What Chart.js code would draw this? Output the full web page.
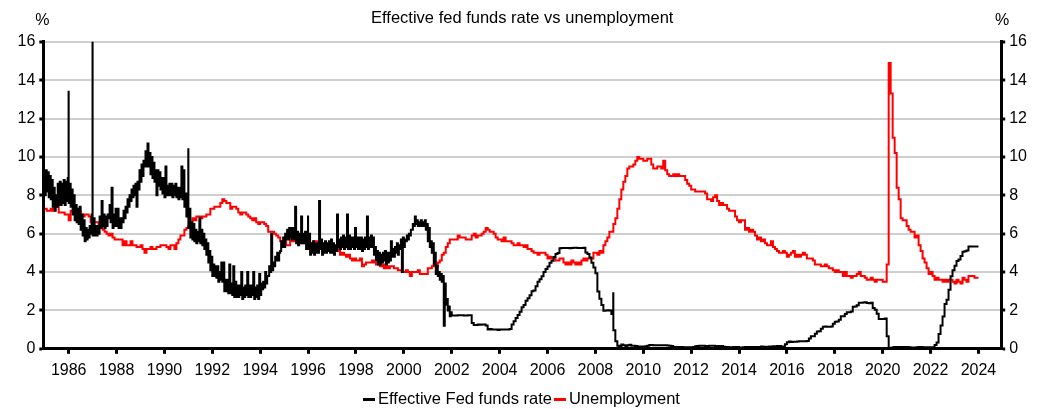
<!DOCTYPE html>
<html>
<head>
<meta charset="utf-8">
<title>Effective fed funds rate vs unemployment</title>
<script src="https://cdn.jsdelivr.net/npm/chart.js@4.4.1/dist/chart.umd.min.js"></script>
<style>
  html, body { margin: 0; padding: 0; background: #ffffff; }
  #wrap { width: 1043px; height: 409px; }
</style>
</head>
<body>
<div id="wrap"><canvas id="chart" width="1043" height="409"></canvas></div>
<script>
// ---- Data -------------------------------------------------------------

// Effective fed funds rate, monthly low and high of the daily prints, Jan 1985 - Dec 2001
const fedFundsMonthlyRange = [
  8.0,9.3, 8.2,9.2, 7.9,9.0, 7.8,8.8, 7.4,8.4, 7.2,8.0, 7.4,8.6, 7.5,8.7, 7.5,8.6, 7.6,8.8, 7.5,8.7, 7.7,8.9,    // 1985
  7.6,8.6, 7.4,8.3, 7.0,8.0, 6.7,7.5, 6.6,7.3, 6.5,7.4, 6.2,7.0, 5.9,6.7, 5.6,6.3, 5.7,6.2, 5.8,6.4, 6.0,7.0,    // 1986
  5.9,6.8, 5.9,6.4, 5.9,6.4, 6.0,6.9, 6.3,7.7, 6.4,7.0, 6.3,6.9, 6.4,7.0, 6.8,7.5, 6.6,8.4, 6.3,7.0, 6.4,7.3,    // 1987
  6.4,7.3, 6.3,6.8, 6.3,6.8, 6.6,7.2, 6.8,7.4, 7.1,7.8, 7.4,8.0, 7.7,8.3, 7.9,8.5, 8.0,8.6, 7.4,8.7, 8.3,9.3,    // 1988
  8.7,9.6, 9.0,9.8, 9.5,10.3, 9.5,10.7, 9.5,10.2, 9.1,10.0, 8.9,9.7, 8.7,9.3, 8.0,9.3, 8.5,9.2, 8.3,8.9, 8.1,8.9, // 1989
  7.9,9.5, 8.0,8.5, 8.0,8.6, 8.0,8.6, 7.9,8.5, 8.0,8.6, 7.9,8.4, 7.8,8.4, 7.9,9.5, 7.8,9.3, 7.4,8.1, 6.9,7.8,    // 1990
  6.3,7.3, 5.8,6.6, 5.7,6.5, 5.6,6.2, 5.5,6.1, 5.6,6.8, 5.5,6.2, 5.4,6.0, 5.2,5.7, 4.9,5.5, 4.5,5.1, 4.1,4.8,    // 1991
  3.8,4.4, 3.8,4.3, 3.7,4.3, 3.5,4.0, 3.6,4.5, 3.5,4.5, 3.0,3.6, 3.0,3.6, 2.9,4.4, 2.9,3.4, 2.8,4.3, 2.7,3.5,    // 1992
  2.7,3.3, 2.7,3.3, 2.8,4.0, 2.6,3.2, 2.7,3.3, 2.8,4.0, 2.7,3.3, 2.7,3.3, 2.8,4.0, 2.6,3.2, 2.7,3.3, 2.6,3.9,    // 1993
  2.8,3.4, 3.1,3.5, 3.2,4.0, 3.4,3.8, 3.8,4.3, 4.0,6.0, 4.1,4.5, 4.3,4.8, 4.6,5.0, 4.6,5.0, 5.1,5.6, 5.3,5.8,    // 1994
  5.3,6.0, 5.7,6.2, 5.7,6.3, 5.8,6.3, 5.7,6.3, 5.7,7.4, 5.5,6.1, 5.4,6.0, 5.5,6.9, 5.5,6.0, 5.5,6.1, 5.2,6.0,    // 1995
  5.2,6.0, 4.9,5.5, 5.0,5.6, 4.9,5.5, 5.0,5.5, 5.0,7.7, 5.2,5.7, 4.9,5.5, 5.0,5.6, 5.0,5.5, 5.1,5.6, 5.0,5.7,    // 1996
  5.0,5.5, 4.9,5.4, 5.1,7.0, 5.3,5.7, 5.2,5.8, 5.3,5.9, 5.2,5.8, 5.3,7.0, 5.2,5.9, 5.2,5.8, 5.3,5.8, 5.2,6.3,    // 1997
  5.3,5.8, 5.2,5.8, 5.2,5.8, 5.1,5.7, 5.2,5.8, 5.3,6.9, 5.2,5.8, 5.3,5.9, 5.3,5.8, 4.9,5.3, 4.6,5.1, 4.4,5.0,    // 1998
  4.4,4.9, 4.5,5.0, 4.6,5.1, 4.4,5.0, 4.5,5.0, 4.6,5.6, 4.8,5.2, 4.8,5.3, 5.0,5.5, 4.9,5.4, 5.2,5.7, 4.0,5.8,    // 1999
  5.3,5.7, 5.6,5.9, 5.7,6.0, 5.9,6.2, 6.2,6.5, 6.4,6.9, 6.5,6.7, 6.4,6.6, 6.4,6.7, 6.4,6.6, 6.4,6.7, 6.2,6.5,    // 2000
  5.6,6.3, 5.3,5.6, 5.0,5.5, 4.4,5.0, 3.9,4.3, 3.8,4.0, 3.6,3.9, 3.5,3.8, 1.2,3.4, 2.3,2.6, 2.0,2.2, 1.7,1.9     // 2001
];

// Effective fed funds rate, monthly, Jan 2002 - Jan 2024
const fedFundsMonthly = [
  1.73,1.74,1.73,1.75,1.75,1.75,1.73,1.74,1.75,1.75,1.34,1.24,   // 2002
  1.24,1.26,1.25,1.26,1.26,1.22,1.01,1.03,1.01,1.01,1.00,0.98,   // 2003
  1.00,1.01,1.00,1.00,1.00,1.03,1.26,1.43,1.61,1.76,1.93,2.16,   // 2004
  2.28,2.50,2.63,2.79,3.00,3.04,3.26,3.50,3.62,3.78,4.00,4.16,   // 2005
  4.29,4.49,4.59,4.79,4.94,4.99,5.24,5.25,5.25,5.25,5.25,5.24,   // 2006
  5.25,5.26,5.26,5.25,5.25,5.25,5.26,5.02,4.94,4.76,4.49,4.24,   // 2007
  3.94,2.98,2.61,2.28,1.98,2.00,2.01,2.00,1.81,0.97,0.39,0.16,   // 2008
  0.15,0.22,0.18,0.15,0.18,0.21,0.16,0.16,0.15,0.12,0.12,0.12,   // 2009
  0.11,0.13,0.16,0.20,0.20,0.18,0.18,0.19,0.19,0.19,0.19,0.18,   // 2010
  0.17,0.16,0.14,0.10,0.09,0.09,0.07,0.10,0.08,0.07,0.08,0.07,   // 2011
  0.08,0.10,0.13,0.14,0.16,0.16,0.16,0.13,0.14,0.16,0.16,0.16,   // 2012
  0.14,0.15,0.14,0.15,0.11,0.09,0.09,0.08,0.08,0.09,0.08,0.09,   // 2013
  0.07,0.07,0.08,0.09,0.09,0.10,0.09,0.09,0.09,0.09,0.09,0.12,   // 2014
  0.11,0.11,0.11,0.12,0.12,0.13,0.13,0.14,0.14,0.12,0.12,0.24,   // 2015
  0.34,0.38,0.36,0.37,0.37,0.38,0.39,0.40,0.40,0.40,0.41,0.54,   // 2016
  0.65,0.66,0.79,0.90,0.91,1.04,1.15,1.16,1.15,1.15,1.16,1.30,   // 2017
  1.41,1.42,1.51,1.69,1.70,1.82,1.91,1.91,1.95,2.19,2.20,2.27,   // 2018
  2.40,2.40,2.41,2.42,2.39,2.38,2.40,2.13,2.04,1.83,1.55,1.55,   // 2019
  1.55,1.58,0.65,0.05,0.05,0.08,0.09,0.10,0.09,0.09,0.09,0.09,   // 2020
  0.09,0.08,0.07,0.07,0.06,0.08,0.10,0.09,0.08,0.08,0.08,0.08,   // 2021
  0.08,0.08,0.20,0.33,0.77,1.21,1.68,2.33,2.56,3.08,3.78,4.10,   // 2022
  4.33,4.57,4.65,4.83,5.06,5.08,5.12,5.33,5.33,5.33,5.33,5.33,   // 2023
  5.33                                                           // 2024
];

// Single-day jumps in the overnight rate: [date as decimal year, rate]
const fedFundsSpikes = [
  [1985.996, 13.4],
  [1986.996, 16.0],
  [1990.996, 10.4],
  [1995.996, 6.9],
  [2008.745, 2.9]
];

// Unemployment rate, monthly, Jan 1985 - Jan 2024
const unemployment = [
  7.3,7.2,7.2,7.3,7.2,7.4,7.4,7.1,7.1,7.1,7.0,7.0,   // 1985
  6.7,7.2,7.2,7.1,7.2,7.2,7.0,6.9,7.0,7.0,6.9,6.6,   // 1986
  6.6,6.6,6.6,6.3,6.3,6.2,6.1,6.0,5.9,6.0,5.8,5.7,   // 1987
  5.7,5.7,5.7,5.4,5.6,5.4,5.4,5.6,5.4,5.4,5.3,5.3,   // 1988
  5.4,5.2,5.0,5.2,5.2,5.3,5.2,5.2,5.3,5.3,5.4,5.4,   // 1989
  5.4,5.3,5.2,5.4,5.4,5.2,5.5,5.7,5.9,5.9,6.2,6.3,   // 1990
  6.4,6.6,6.8,6.7,6.9,6.9,6.8,6.9,6.9,7.0,7.0,7.3,   // 1991
  7.3,7.4,7.4,7.4,7.6,7.8,7.7,7.6,7.6,7.3,7.4,7.4,   // 1992
  7.3,7.1,7.0,7.1,7.1,7.0,6.9,6.8,6.7,6.8,6.6,6.5,   // 1993
  6.6,6.6,6.5,6.4,6.1,6.1,6.1,6.0,5.9,5.8,5.6,5.5,   // 1994
  5.6,5.4,5.4,5.8,5.6,5.6,5.7,5.7,5.6,5.5,5.6,5.6,   // 1995
  5.6,5.5,5.5,5.6,5.6,5.3,5.5,5.1,5.2,5.2,5.4,5.4,   // 1996
  5.3,5.2,5.2,5.1,4.9,5.0,4.9,4.8,4.9,4.7,4.6,4.7,   // 1997
  4.6,4.6,4.7,4.3,4.4,4.5,4.5,4.5,4.6,4.5,4.4,4.4,   // 1998
  4.3,4.4,4.2,4.3,4.2,4.3,4.3,4.2,4.2,4.1,4.1,4.0,   // 1999
  4.0,4.1,4.0,3.8,4.0,4.0,4.0,4.1,3.9,3.9,3.9,3.9,   // 2000
  4.2,4.2,4.3,4.4,4.3,4.5,4.6,4.9,5.0,5.3,5.5,5.7,   // 2001
  5.7,5.7,5.7,5.9,5.8,5.8,5.8,5.7,5.7,5.7,5.9,6.0,   // 2002
  5.8,5.9,5.9,6.0,6.1,6.3,6.2,6.1,6.1,6.0,5.8,5.7,   // 2003
  5.7,5.6,5.8,5.6,5.6,5.6,5.5,5.4,5.4,5.5,5.4,5.4,   // 2004
  5.3,5.4,5.2,5.2,5.1,5.0,5.0,4.9,5.0,5.0,5.0,4.9,   // 2005
  4.7,4.8,4.7,4.7,4.6,4.6,4.7,4.7,4.5,4.4,4.5,4.4,   // 2006
  4.6,4.5,4.4,4.5,4.4,4.6,4.7,4.6,4.7,4.7,4.7,5.0,   // 2007
  5.0,4.9,5.1,5.0,5.4,5.6,5.8,6.1,6.1,6.5,6.8,7.3,   // 2008
  7.8,8.3,8.7,9.0,9.4,9.5,9.5,9.6,9.8,10.0,9.9,9.9,  // 2009
  9.8,9.8,9.9,9.9,9.6,9.4,9.4,9.5,9.5,9.4,9.8,9.3,   // 2010
  9.1,9.0,9.0,9.1,9.0,9.1,9.0,9.0,9.0,8.8,8.6,8.5,   // 2011
  8.3,8.3,8.2,8.2,8.2,8.2,8.2,8.1,7.8,7.8,7.7,7.9,   // 2012
  8.0,7.7,7.5,7.6,7.5,7.5,7.3,7.2,7.2,7.2,6.9,6.7,   // 2013
  6.6,6.7,6.7,6.2,6.3,6.1,6.2,6.1,5.9,5.7,5.8,5.6,   // 2014
  5.7,5.5,5.4,5.4,5.6,5.3,5.2,5.1,5.0,5.0,5.1,5.0,   // 2015
  4.8,4.9,5.0,5.1,4.8,4.9,4.8,4.9,5.0,4.9,4.7,4.7,   // 2016
  4.7,4.6,4.4,4.4,4.4,4.3,4.3,4.4,4.3,4.2,4.2,4.1,   // 2017
  4.0,4.1,4.0,4.0,3.8,4.0,3.8,3.8,3.7,3.8,3.8,3.9,   // 2018
  4.0,3.8,3.8,3.7,3.6,3.6,3.7,3.6,3.5,3.6,3.6,3.6,   // 2019
  3.5,3.5,4.4,14.9,13.3,11.0,10.2,8.4,7.8,6.8,6.7,6.7, // 2020
  6.4,6.2,6.1,6.1,5.8,5.9,5.4,5.1,4.7,4.5,4.2,3.9,   // 2021
  4.0,3.8,3.6,3.7,3.6,3.6,3.5,3.6,3.5,3.6,3.6,3.5,   // 2022
  3.4,3.6,3.5,3.4,3.7,3.6,3.5,3.8,3.8,3.8,3.7,3.7,   // 2023
  3.7                                                // 2024
];

const seriesNames = ['Effective Fed funds rate', 'Unemployment'];
const seriesColors = ['#000000', '#ff0000'];
const tickYears = [1986,1988,1990,1992,1994,1996,1998,2000,2002,2004,2006,2008,2010,2012,2014,2016,2018,2020,2022,2024];
const rateTicks = [0,2,4,6,8,10,12,14,16];
const chartTitle = 'Effective fed funds rate vs unemployment';
const unitLabel = '%';

// ---- Series construction ---------------------------------------------

const START_YEAR = 1985;
const MONTHLY_FED_START = 2002;

// each month of the range block contributes its low (month start) and high (mid-month)
const fedPoints = [];
fedFundsMonthlyRange.forEach((v, i) => fedPoints.push({ x: START_YEAR + i / 24, y: v }));
fedFundsMonthly.forEach((v, i) => fedPoints.push({ x: MONTHLY_FED_START + i / 12, y: v }));
fedFundsSpikes.forEach(([x, y]) => fedPoints.push({ x, y }));
fedPoints.sort((a, b) => a.x - b.x);

const unemploymentPoints = unemployment.map((v, i) => ({ x: START_YEAR + i / 12, y: v }));

// ---- Styling ----------------------------------------------------------

const FONT_FAMILY = '"Liberation Sans", Arial, Helvetica, sans-serif';
const tickFont = { family: FONT_FAMILY, size: 16 };

// "%" unit markers above both value axes
const unitMarkers = {
  id: 'unitMarkers',
  afterDraw(chart) {
    const { ctx, chartArea } = chart;
    ctx.save();
    ctx.font = '16px ' + FONT_FAMILY;
    ctx.fillStyle = '#000';
    ctx.textAlign = 'center';
    ctx.textBaseline = 'middle';
    ctx.fillText(unitLabel, chartArea.left - 1, 20.5);
    ctx.fillText(unitLabel, chartArea.right + 1, 20.5);
    ctx.restore();
  }
};

// Compact legend under the axis: short bar followed by the series name
const bottomLegend = {
  id: 'bottomLegend',
  afterDraw(chart) {
    const ctx = chart.ctx;
    ctx.save();
    ctx.font = '16.5px ' + FONT_FAMILY;
    ctx.textBaseline = 'middle';
    ctx.textAlign = 'left';
    const barW = 12, barH = 3, textGap = 3, itemGap = 2, y = 399.5;
    const items = chart.data.datasets.map(ds => ({
      text: ds.label, color: ds.borderColor, w: ctx.measureText(ds.label).width
    }));
    const total = items.reduce((s, it) => s + barW + textGap + it.w, 0) + itemGap * (items.length - 1);
    let x = Math.round(chart.width / 2 - total / 2);
    items.forEach(it => {
      ctx.fillStyle = it.color;
      ctx.fillRect(x, y - barH / 2, barW, barH);
      x += barW + textGap;
      ctx.fillStyle = '#000';
      ctx.fillText(it.text, x, y);
      x += it.w + itemGap;
    });
    ctx.restore();
  }
};

const valueAxis = (position) => ({
  position,
  min: 0,
  max: 16,
  afterBuildTicks: (scale) => { scale.ticks = rateTicks.map(v => ({ value: v })); },
  ticks: { font: tickFont, color: '#000', padding: 4 },
  grid: {
    drawOnChartArea: position === 'left',
    color: '#cfcfcf',
    lineWidth: 2,
    tickColor: '#000',
    tickWidth: 3,
    tickLength: 4
  },
  border: { color: '#000', width: 3 }
});

new Chart(document.getElementById('chart'), {
  type: 'line',
  data: {
    datasets: [
      {
        label: seriesNames[0],
        data: fedPoints,
        borderColor: seriesColors[0],
        backgroundColor: seriesColors[0],
        borderWidth: 2,
        pointRadius: 0,
        stepped: true,
        yAxisID: 'y'
      },
      {
        label: seriesNames[1],
        data: unemploymentPoints,
        borderColor: seriesColors[1],
        backgroundColor: seriesColors[1],
        borderWidth: 2,
        pointRadius: 0,
        stepped: true,
        yAxisID: 'y'
      }
    ]
  },
  options: {
    responsive: false,
    animation: false,
    parsing: false,
    normalized: true,
    layout: { padding: { left: 13.5, right: 12, top: 0, bottom: 22 } },
    scales: {
      x: {
        type: 'linear',
        min: 1984.94,
        max: 2024.95,
        afterBuildTicks: (scale) => { scale.ticks = tickYears.map(v => ({ value: v })); },
        ticks: {
          font: tickFont,
          color: '#000',
          padding: 7,
          maxRotation: 0,
          autoSkip: false,
          callback: (v) => String(v)
        },
        grid: {
          drawOnChartArea: false,
          drawTicks: true,
          tickColor: '#000',
          tickWidth: 3,
          tickLength: 5
        },
        border: { color: '#000', width: 3 }
      },
      y: valueAxis('left'),
      y1: valueAxis('right')
    },
    plugins: {
      title: {
        display: true,
        text: chartTitle,
        color: '#000',
        font: { family: FONT_FAMILY, size: 16.5, weight: 'normal' },
        padding: { top: 8.5, bottom: 13.5 }
      },
      legend: { display: false },
      tooltip: { enabled: false }
    }
  },
  plugins: [unitMarkers, bottomLegend]
});
</script>
</body>
</html>
